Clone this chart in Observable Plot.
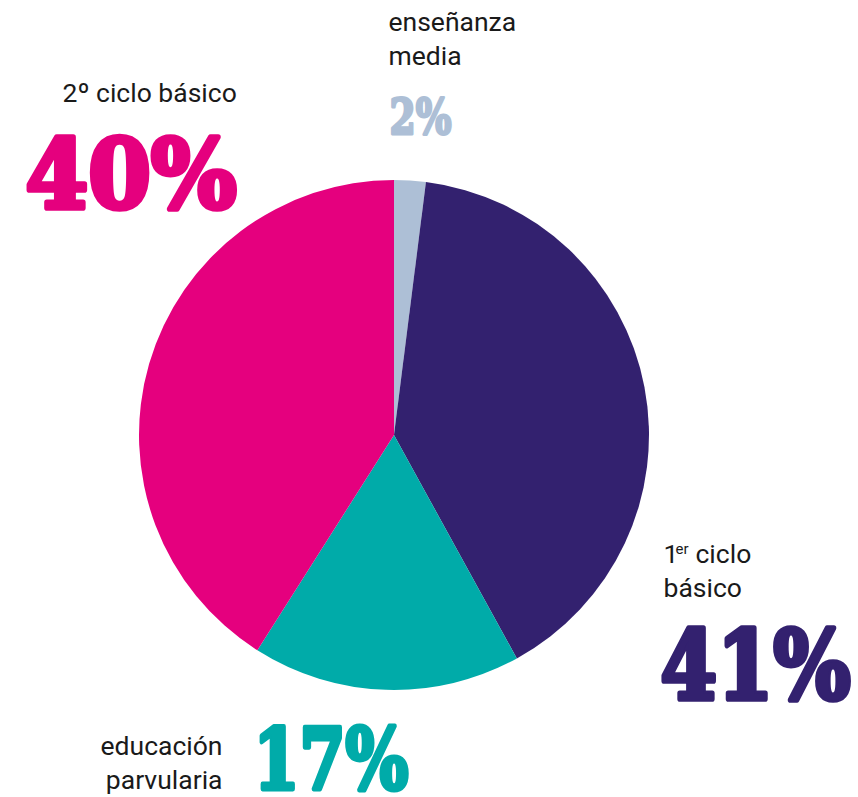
<!DOCTYPE html>
<html>
<head>
<meta charset="utf-8">
<script src="https://cdn.jsdelivr.net/npm/d3@7"></script>
<script src="https://cdn.jsdelivr.net/npm/@observablehq/plot@0.6"></script>
<style>
  html, body { margin: 0; padding: 0; background: #ffffff; }
  #chart svg { display: block; }
</style>
</head>
<body>
<div id="chart"></div>
<script>
// ---- data ----
const categories = ["enseñanza media", "1er ciclo básico", "educación parvularia", "2º ciclo básico"];
// slice sizes as drawn (percent of the circle)
const shares = [2, 40, 17, 41];
// printed percentage labels
const percentLabels = ["2%", "41%", "17%", "40%"];
const sliceColors = ["#adbfd6", "#33216f", "#00aba9", "#e5007e"];

// ---- layout (pixels) ----
const W = 858, H = 797;
const center = {x: 394, y: 435}, radius = 255;

const pieData = categories.map((c, i) => ({category: c, value: shares[i]}));
const arcs = d3.pie().value(d => d.value).sort(null)(pieData);

function pieMark(index, scales) {
  const cx = scales.x(center.x), cy = scales.y(center.y);
  const r = Math.abs(scales.x(center.x + radius) - cx);
  const arc = d3.arc().innerRadius(0).outerRadius(r);
  const g = d3.create("svg:g").attr("transform", `translate(${cx},${cy})`);
  g.selectAll("path").data(arcs).join("path")
    .attr("d", arc)
    .attr("fill", d => scales.color(d.data.category));
  return g.node();
}

// category label placement
const catLayout = {
  "enseñanza media":      {text: "enseñanza\nmedia", x: 388, y: 64, anchor: "start"},
  "1er ciclo básico":     {text: "básico", x: 663, y: 596, anchor: "start"},
  "educación parvularia": {text: "educación\nparvularia", x: 222, y: 788, anchor: "end"},
  "2º ciclo básico":      {text: "2º ciclo básico", x: 62, y: 101, anchor: "start"}
};
const catRows = categories.map(c => ({category: c, ...catLayout[c]}));

// percent label placement
const pctLayout = {
  "enseñanza media":      {x: 389, y: 133, size: 48, len: 62},
  "1er ciclo básico":     {x: 660, y: 698, size: 96, len: 190},
  "educación parvularia": {x: 253, y: 788, size: 84, len: 155},
  "2º ciclo básico":      {x: 25, y: 207, size: 96, len: 211}
};
const pctRows = categories.map((c, i) => ({category: c, label: percentLabels[i], ...pctLayout[c]}));

const labelFont = "Roboto, 'Noto Sans', sans-serif";
const bigFont = "'DejaVu Serif', serif";
const labelStyle = {lineAnchor: "bottom", lineHeight: 1.28, fontSize: 26.5, fontFamily: labelFont, fill: "#1a1a1a"};

const chart = Plot.plot({
  width: W,
  height: H,
  margin: 0,
  x: {domain: [0, W], range: [0, W], axis: null},
  y: {domain: [0, H], range: [0, H], axis: null},
  color: {domain: categories, range: sliceColors},
  style: {background: "#ffffff", overflow: "visible"},
  marks: [
    pieMark,
    Plot.text(catRows.filter(d => d.anchor === "start"), {x: "x", y: "y", text: "text", textAnchor: "start", ...labelStyle}),
    Plot.text(catRows.filter(d => d.anchor === "end"), {x: "x", y: "y", text: "text", textAnchor: "end", ...labelStyle}),
    // "1er ciclo" first line of the 1er ciclo label
    Plot.text(["1"], {x: () => 663, y: () => 562, text: d => d, textAnchor: "start", ...labelStyle}),
    Plot.text(["er"], {x: () => 675, y: () => 553, text: d => d, textAnchor: "start", ...labelStyle, fontSize: 15}),
    Plot.text(["ciclo"], {x: () => 695, y: () => 562, text: d => d, textAnchor: "start", ...labelStyle}),
    Plot.text(pctRows, {
      x: "x", y: "y", text: "label",
      fill: "category",
      stroke: "category",
      strokeWidth: d => d.size / 17,
      textAnchor: "start",
      lineAnchor: "bottom",
      fontSize: d => d.size,
      fontWeight: 900,
      fontFamily: bigFont,
      className: "pct"
    })
  ]
});

document.getElementById("chart").appendChild(chart);

// fit the big percentage labels to their printed widths
d3.select(chart).selectAll("g.pct text").each(function(d, i) {
  const row = pctRows[i];
  this.setAttribute("textLength", row.len);
  this.setAttribute("lengthAdjust", "spacingAndGlyphs");
});
</script>
</body>
</html>
